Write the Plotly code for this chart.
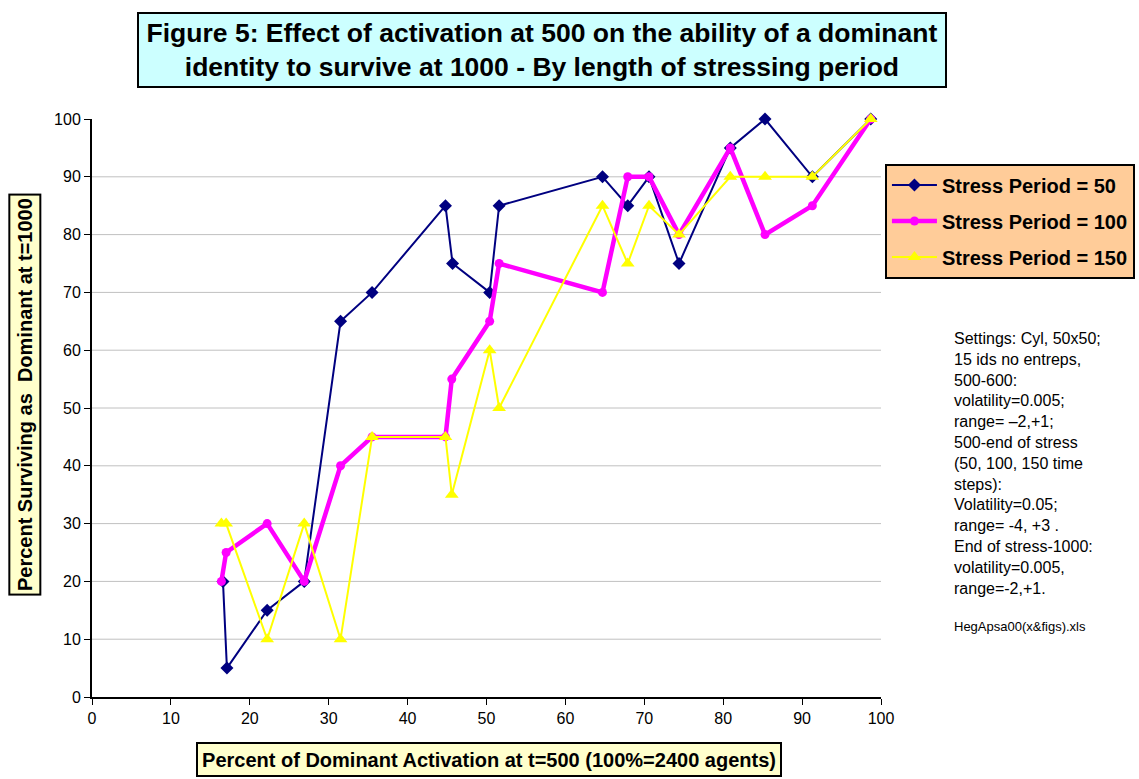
import plotly.graph_objects as go

# ---- data ----
x_sp50 = [16.6, 17.1, 22.2, 26.9, 31.5, 35.5, 44.8, 45.7, 50.4, 51.6, 64.7, 67.9, 70.6, 74.4, 80.9, 85.3, 91.3, 98.7]
y_sp50 = [20, 5, 15, 20, 65, 70, 85, 75, 70, 85, 90, 85, 90, 75, 95, 100, 90, 100]

x_sp100 = [16.4, 17.0, 22.2, 26.9, 31.5, 35.5, 44.8, 45.6, 50.4, 51.6, 64.7, 67.9, 70.6, 74.4, 80.9, 85.3, 91.3, 98.7]
y_sp100 = [20, 25, 30, 20, 40, 45, 45, 55, 65, 75, 70, 90, 90, 80, 95, 80, 85, 100]

x_sp150 = [16.4, 17.0, 22.2, 26.9, 31.5, 35.5, 44.8, 45.6, 50.4, 51.6, 64.7, 67.9, 70.6, 74.4, 80.9, 85.3, 91.3, 98.7]
y_sp150 = [30, 30, 10, 30, 10, 45, 45, 35, 60, 50, 85, 75, 85, 80, 90, 90, 90, 100]

series_names = ["Stress Period = 50", "Stress Period = 100", "Stress Period = 150"]
tick_vals = [0, 10, 20, 30, 40, 50, 60, 70, 80, 90, 100]
grid_vals = [10, 20, 30, 40, 50, 60, 70, 80, 90]

title_text = ("Figure 5: Effect of activation at 500 on the ability of a dominant<br>"
              "identity to survive at 1000 - By length of stressing period")
x_title = "Percent of Dominant Activation at t=500 (100%=2400 agents)"
y_title = "Percent Surviving as  Dominant at t=1000"
settings_lines = [
    "Settings: Cyl, 50x50;",
    "15 ids no entreps,",
    "500-600:",
    "volatility=0.005;",
    "range= \u20132,+1;",
    "500-end of stress",
    "(50, 100, 150 time",
    "steps):",
    "Volatility=0.05;",
    "range= -4, +3 .",
    "End of stress-1000:",
    "volatility=0.005,",
    "range=-2,+1.",
]
file_note = "HegApsa00(x&figs).xls"

FONT = "Arial, 'Liberation Sans', sans-serif"

fig = go.Figure()
fig.add_trace(go.Scatter(
    x=x_sp50, y=y_sp50, name=series_names[0], mode="lines+markers",
    line=dict(color="#000080", width=2),
    marker=dict(symbol="diamond", size=10, color="#000080"),
    cliponaxis=False, legendgroup="a"))
fig.add_trace(go.Scatter(
    x=x_sp100, y=y_sp100, name=series_names[1], mode="lines+markers",
    line=dict(color="#FF00FF", width=4.5),
    marker=dict(symbol="circle", size=9, color="#FF00FF"),
    cliponaxis=False, legendgroup="b"))
fig.add_trace(go.Scatter(
    x=x_sp150, y=y_sp150, name=series_names[2], mode="lines+markers",
    line=dict(color="#FFFF00", width=2),
    marker=dict(symbol="triangle-up", size=12, color="#FFFF00"),
    cliponaxis=False, legendgroup="c"))

for g in grid_vals:
    fig.add_shape(type="line", xref="paper", x0=0, x1=1, yref="y", y0=g, y1=g,
                  line=dict(color="#C0C0C0", width=1), layer="below")

fig.update_layout(
    width=1139, height=779,
    margin=dict(l=92, r=258, t=119, b=82, autoexpand=False),
    paper_bgcolor="white", plot_bgcolor="white",
    font=dict(family=FONT, color="black"),
    showlegend=True,
    legend=dict(
        x=1.005, xanchor="left", y=0.923, yanchor="top",
        bgcolor="#FFCC99", bordercolor="black", borderwidth=2,
        font=dict(family=FONT, size=20, color="black", weight="bold"),
        traceorder="grouped", tracegroupgap=7, itemwidth=45,
        entrywidth=225, entrywidthmode="pixels",
    ),
    xaxis=dict(
        range=[0, 100], tickvals=tick_vals, ticks="outside", ticklen=6, tickwidth=1,
        tickcolor="black", showline=True, linecolor="black", linewidth=2,
        showgrid=False, zeroline=False, tickfont=dict(size=16, family=FONT, color="black"),
    ),
    yaxis=dict(
        range=[0, 100], tickvals=tick_vals, ticks="outside", ticklen=6, tickwidth=1,
        tickcolor="black", showline=True, linecolor="black", linewidth=2,
        showgrid=False, zeroline=False, tickfont=dict(size=16, family=FONT, color="black"),
    ),
)

annotations = [
    dict(text="<b>" + title_text + "</b>", xref="paper", yref="paper",
         x=0.5703, y=1.1194, xanchor="center", yanchor="middle", showarrow=False,
         font=dict(family=FONT, size=26.5, color="black"),
         bgcolor="#CCFFFF", bordercolor="black", borderwidth=2, borderpad=0,
         width=806, height=72),
    dict(text="<b>" + x_title + "</b>", xref="paper", yref="paper",
         x=0.503, y=-0.108, xanchor="center", yanchor="middle", showarrow=False,
         font=dict(family=FONT, size=20, color="black"),
         bgcolor="#FFFFCC", bordercolor="black", borderwidth=2, borderpad=0,
         width=582, height=31),
    dict(text="<b>" + y_title + "</b>", xref="paper", yref="paper",
         x=-0.0856, y=0.524, xanchor="center", yanchor="middle", showarrow=False,
         textangle=-90,
         font=dict(family=FONT, size=20, color="black"),
         bgcolor="#FFFFCC", bordercolor="black", borderwidth=2, borderpad=0,
         width=398, height=29),
    dict(text="<br>".join(settings_lines), xref="paper", yref="paper",
         x=1.090, y=0.404, xanchor="left", yanchor="middle", align="left",
         showarrow=False, font=dict(family=FONT, size=16, color="black")),
    dict(text=file_note, xref="paper", yref="paper",
         x=1.090, y=0.1228, xanchor="left", yanchor="middle", align="left",
         showarrow=False, font=dict(family=FONT, size=13, color="black")),
]
fig.update_layout(annotations=annotations)

fig.write_html("out.html")
